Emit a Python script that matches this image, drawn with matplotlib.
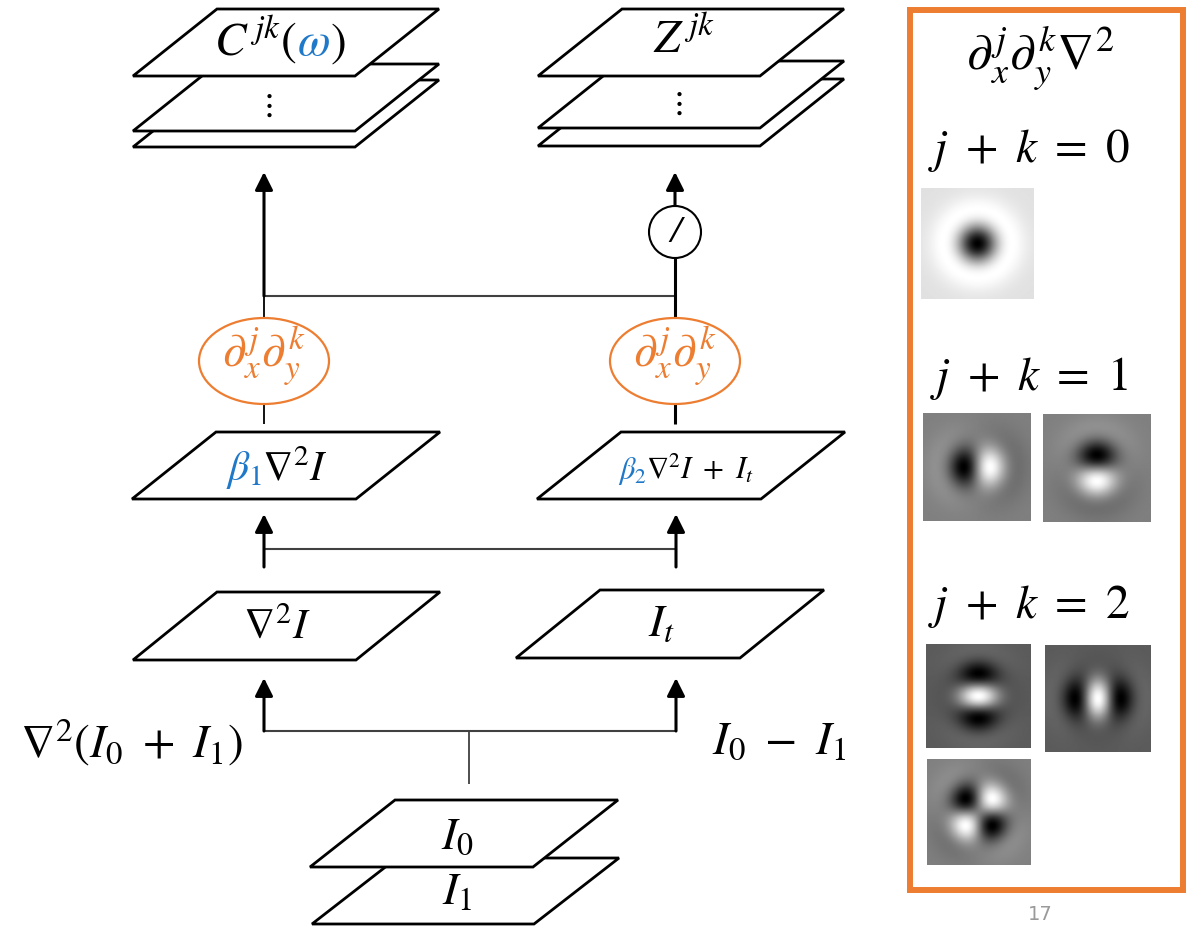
import numpy as np
import matplotlib
matplotlib.use('Agg')
import matplotlib.pyplot as plt
from matplotlib.patches import Polygon, Ellipse, Rectangle, FancyArrowPatch
from matplotlib.offsetbox import TextArea, HPacker, AnnotationBbox

plt.rcParams['mathtext.fontset'] = 'stix'
plt.rcParams['font.family'] = ['STIXGeneral', 'DejaVu Sans']

ORANGE = '#ED7D31'
BLUE = '#1F78C8'

# layer labels (pieces: text, colour)
top_left_label = [(r'$C^{\,jk}($', 'k'), (r'$\omega$', BLUE), (r'$)$', 'k')]
top_right_label = [(r'$Z^{\,jk}$', 'k')]
beta1_label = [(r'$\beta_1$', BLUE), (r'$\nabla^2 I$', 'k')]
beta2_label = [(r'$\beta_2$', BLUE), (r'$\nabla^2 I\ +\ I_t$', 'k')]
lap_label = r'$\nabla^2 I$'
it_label = r'$I_t$'
sum_label = r'$\nabla^2(I_0\ +\ I_1)$'
diff_label = r'$I_0\ -\ I_1$'
input_labels = [r'$I_0$', r'$I_1$']
deriv_label = r'$\partial_x^{\,j}\partial_y^{\,k}$'
panel_title = r'$\partial_x^{\,j}\partial_y^{\,k}\nabla^2$'
order_labels = [r'$j\ +\ k\ =\ 0$', r'$j\ +\ k\ =\ 1$', r'$j\ +\ k\ =\ 2$']
# derivative orders (j, k) shown in each kernel thumbnail
kernel_orders = [(0, 0), (1, 0), (0, 1), (0, 2), (2, 0), (1, 1)]

fig = plt.figure(figsize=(11.93, 9.26), dpi=100)
ax = fig.add_axes([0, 0, 1, 1])
ax.set_xlim(0, 1193)
ax.set_ylim(926, 0)
ax.axis('off')


def sheet(x0, yb, w=222, s=84, h=67, z=2):
    pts = [(x0, yb), (x0 + w, yb), (x0 + w + s, yb - h), (x0 + s, yb - h)]
    ax.add_patch(Polygon(pts, closed=True, fc='white', ec='black', lw=2.0, zorder=z))


def rich(x, y, parts, size):
    boxes = [TextArea(t, textprops=dict(color=c, fontsize=size)) for t, c in parts]
    pack = HPacker(children=boxes, align='baseline', pad=0, sep=0)
    ab = AnnotationBbox(pack, (x, y), frameon=False, box_alignment=(0.5, 0.5),
                        pad=0, annotation_clip=False, zorder=5)
    ax.add_artist(ab)


def arrow(x, y0, y1):
    ax.add_patch(FancyArrowPatch((x, y0), (x, y1),
                                 arrowstyle='-|>,head_length=0.4,head_width=0.2',
                                 mutation_scale=27, lw=2.2, color='black',
                                 shrinkA=0, shrinkB=0, zorder=3))


def vline(x, y0, y1, lw=2.2, color='black'):
    ax.plot([x, x], [y0, y1], color=color, lw=lw, solid_capstyle='butt', zorder=1)


def hline(y, x0, x1):
    ax.plot([x0, x1], [y, y], color='#404040', lw=1.5, zorder=1)


# top stacks
for yb in [147, 131, 76]:
    sheet(133, yb)
for yb in [146, 128, 76]:
    sheet(538, yb)
rich(280, 40, top_left_label, 34)
rich(684, 40, top_right_label, 34)
ax.text(266, 106, r'$\vdots$', fontsize=24, ha='center', va='center', zorder=5)
ax.text(676, 104, r'$\vdots$', fontsize=24, ha='center', va='center', zorder=5)

# upper connections
arrow(264, 296, 172)
hline(296, 264, 675)
vline(264, 296, 318, lw=1.3)
vline(264, 404, 424, lw=1.3)
vline(675, 318, 258)
arrow(675, 206, 172)
vline(675, 404, 424)
ax.add_patch(Ellipse((675, 232), 52, 52, fc='white', ec='black', lw=1.5, zorder=3))
ax.text(675, 232, '/', fontsize=26, style='italic', ha='center', va='center', zorder=5)

for cx in [264, 675]:
    ax.add_patch(Ellipse((cx, 361), 130, 86, fc='white', ec=ORANGE, lw=1.6, zorder=3))
    ax.text(cx, 357, deriv_label, color=ORANGE, fontsize=34, ha='center', va='center', zorder=5)

# beta layers
sheet(132, 499, w=224)
sheet(537, 499, w=224)
rich(277, 470, beta1_label, 30)
rich(686, 470, beta2_label, 22)

arrow(264, 567, 514)
arrow(676, 567, 514)
hline(549, 264, 676)

# laplacian and temporal layers
sheet(133, 660, w=223, s=84, h=68)
sheet(516, 658, w=224, s=84, h=68)
ax.text(277, 627, lap_label, fontsize=31, ha='center', va='center', zorder=5)
ax.text(662, 625, it_label, fontsize=33, ha='center', va='center', zorder=5)

arrow(264, 731, 678)
arrow(676, 731, 678)
hline(731, 264, 676)
vline(469, 731, 784, lw=1.3, color='#404040')
ax.text(20, 742, sum_label, fontsize=34, ha='left', va='center')
ax.text(846, 742, diff_label, fontsize=34, ha='right', va='center')

# input stack
sheet(312, 924, w=222, s=85, h=66)
sheet(310, 867, w=223, s=85, h=67)
ax.text(457, 838, input_labels[0], fontsize=33, ha='center', va='center', zorder=5)
ax.text(457, 893, input_labels[1], fontsize=33, ha='center', va='center', zorder=5)

# right panel
ax.add_patch(Rectangle((910, 10), 273, 880, fill=False, ec=ORANGE, lw=4.3, zorder=4))
ax.text(1040, 58, panel_title, fontsize=37, ha='center', va='center')
for lab, yc in zip(order_labels, [150, 378, 606]):
    ax.text(1029, yc, lab, fontsize=34, ha='center', va='center')


def kernel(j, k, n=121, L=3.2):
    t = np.linspace(-L, L, n)
    x, y = np.meshgrid(t, t)  # y grows downward (image rows)
    r2 = x ** 2 + y ** 2
    g = np.exp(-r2 / 2)
    if (j, k) == (0, 0):
        return (r2 - 2) * g
    if (j, k) == (1, 0):
        return x * (4 - r2) * g
    if (j, k) == (0, 1):
        return y * (4 - r2) * g
    if (j, k) == (2, 0):
        return ((4 - r2) - 2 * x ** 2 - x ** 2 * (4 - r2)) * g
    if (j, k) == (0, 2):
        return ((4 - r2) - 2 * y ** 2 - y ** 2 * (4 - r2)) * g
    return -x * y * (6 - r2) * g


boxes = [(921, 1034, 188, 299), (923, 1031, 413, 521), (1043, 1151, 414, 522),
         (926, 1031, 644, 748), (1045, 1151, 645, 752), (927, 1031, 759, 865)]
for (j, k), (x0, x1, y0, y1) in zip(kernel_orders, boxes):
    img = kernel(j, k)
    ax.imshow(img, cmap='gray', vmin=img.min(), vmax=img.max(),
              extent=(x0, x1, y1, y0), interpolation='bilinear', zorder=2)
ax.set_xlim(0, 1193)
ax.set_ylim(926, 0)
ax.set_aspect('auto')

ax.text(1040, 924, '17', fontsize=14, color='#9a9a9a', ha='center', va='bottom',
        family='DejaVu Sans')

fig.savefig('out.png', dpi=100)
